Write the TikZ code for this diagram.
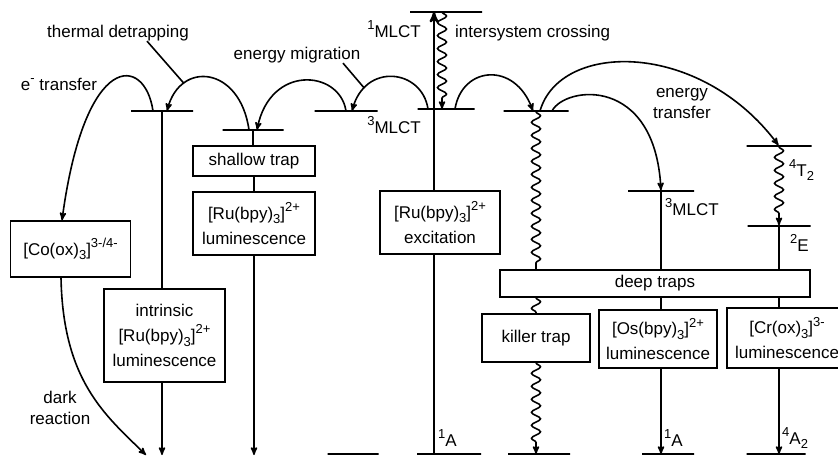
\documentclass[tikz,border=0pt]{standalone}
\usepackage{fontspec}
\setmainfont{Liberation Sans}
\usetikzlibrary{arrows,decorations.pathmorphing}
\newcommand{\lsub}[1]{\raisebox{-0.5ex}{\fontsize{13}{13}\selectfont #1}}
\newcommand{\lsup}[1]{\raisebox{0.85ex}{\fontsize{13}{13}\selectfont #1}}
\newcommand{\rubpy}{{[}Ru(bpy)\lsub{3}{]}\lsup{2+}}
\tikzset{
  lab/.style = {align=center, inner sep=0pt, font=\fontsize{17}{21}\selectfont},
  box_t/.style = {lab, rectangle, draw=black, line width=1.5pt, fill=white,
    font=\fontsize{17}{25}\selectfont},
  lvl/.style = {rectangle, draw=black, line width=1.5pt, inner sep=0pt,
    minimum height=0pt, minimum width=#1},% niveau d'energie
  wig/.style = {decorate, decoration={snake, amplitude=4.5pt,
    segment length=13pt, post length=8pt}},% relaxation
  wire/.style = {line width=1.6pt}
}

\begin{document}
\begin{tikzpicture}[x=1pt, y=-1pt, >=stealth']
\useasboundingbox[fill=white] (0,0) rectangle (838,457);

% levels
\node[lvl=62pt] (lA) at (162,111) {};
\node[lvl=61pt] (lB) at (253,130) {};
\node[lvl=63pt] (lC) at (346,111) {};
\node[lvl=72pt] (s1) at (446,12) {};
\node[lvl=57pt] (t1) at (446,109) {};
\node[lvl=65pt] (lD) at (536,111) {};
\node[lvl=66pt] (lO) at (661,191) {};
\node[lvl=65pt] (l4) at (779,146) {};
\node[lvl=63pt] (l2) at (779,226) {};
% ground states
\node[lvl=51pt] (gC) at (353,454) {};
\node[lvl=64pt] (g1) at (449,454) {};
\node[lvl=62pt] (gK) at (539,454) {};
\node[lvl=52pt] (gO) at (668,454) {};
\node[lvl=59pt] (gR) at (776,454) {};
\coordinate (eA) at (162,455);
\coordinate (eB) at (254,455);
\coordinate (eD) at (146,455);
\coordinate (cM) at (434,0);

% boxes
\node[box_t, minimum width=122pt, minimum height=30pt] (shal) at (254,161) {shallow trap};
\node[box_t, minimum width=122pt, minimum height=63pt] (rlum) at (254,223.5) {\rubpy\\luminescence};
\node[box_t, minimum width=120pt, minimum height=56pt] (co) at (70.5,249) {{[}Co(ox)\lsub{3}{]}\lsup{3-/4-}};
\node[box_t, minimum width=121pt, minimum height=93pt] (intr) at (164.5,335.5) {intrinsic\\\rubpy\\luminescence};
\node[box_t, minimum width=120pt, minimum height=63pt] (ex) at (440,222.5) {\rubpy\\excitation};
\node[box_t, minimum width=310pt, minimum height=27pt] (deep) at (655,283.5) {deep traps};
\node[box_t, minimum width=108pt, minimum height=48pt] (kill) at (536,338) {killer trap};
\node[box_t, minimum width=118pt, minimum height=58pt] (os) at (658,339) {{[}Os(bpy)\lsub{3}{]}\lsup{2+}\\luminescence};
\node[box_t, minimum width=120pt, minimum height=60pt] (cr) at (787,338) {{[}Cr(ox)\lsub{3}{]}\lsup{3-}\\luminescence};

% labels
\node[lab] (l_td) at (118,33) {thermal detrapping};
\node[lab] (l_et) at (59,84) {e\lsup{-} transfer};
\node[lab] (l_em) at (297,55) {energy migration};
\node[lab, anchor=east] (l_s1) at (421,29) {\lsup{1}MLCT};
\node[lab, anchor=east] (l_t1) at (421,125) {\lsup{3}MLCT};
\node[lab, anchor=west] (l_isc) at (455,33) {intersystem crossing};
\node[lab] (l_ent) at (682,104) {energy\\transfer};
\node[lab, anchor=west] (l_tO) at (665,207) {\lsup{3}MLCT};
\node[lab, anchor=west] (l_4T) at (789,170) {\lsup{4}T\lsub{2}};
\node[lab, anchor=west] (l_2E) at (790,243) {\lsup{2}E};
\node[lab] (l_dr) at (60,408) {dark\\reaction};
\node[lab, anchor=west] (l_1A) at (438,438) {\lsup{1}A};
\node[lab, anchor=west] (l_1Ao) at (664,438) {\lsup{1}A};
\node[lab, anchor=west] (l_4A) at (782,438) {\lsup{4}A\lsub{2}};

\begin{scope}[wire]
% intrinsic and shallow trap
\draw (lA) -- (lA |- intr.north);
\draw[->] (lA |- intr.south) -- (eA);
\draw (lB) -- (lB |- shal.north);
\draw (shal.south) -- (rlum.north);
\draw[->] (rlum.south) -- (eB);
% excitation, intersystem crossing
\draw[line width=2.4pt] (g1 -| cM) -- (ex.south -| cM);
\draw[->, line width=2.4pt] (ex.north -| cM) -- (s1 -| cM);
\draw[->, wig] ([xshift=-4pt]s1.center) -- ([xshift=-4pt]t1.center);
% killer trap
\draw[wig, decoration={post length=0pt}] (lD) -- (lD |- deep.north);
\draw[wig, decoration={post length=0pt}] (kill |- deep.south) -- (kill.north);
\draw[->, wig] (kill.south) -- (kill |- gK);
% osmium
\draw (lO) -- (lO |- deep.north);
\draw (lO |- deep.south) -- (lO |- os.north);
\draw[->] (lO |- os.south) -- (lO |- gO);
% chromium
\draw[->, wig] (l4) -- (l2);
\draw (l2) -- (l2 |- deep.north);
\draw (l2 |- deep.south) -- (l2 |- cr.north);
\draw[->] (l2 |- cr.south) -- (l2 |- gR);
% cobalt
\draw[->] ([xshift=-9pt]lA.center) .. controls +(-8,-56) and +(23,-171) .. ([xshift=-8.5pt]co.north);
\draw[->] ([xshift=-9.5pt]co.south) .. controls +(2,103) and +(-41,-40) .. (eD);
% detrapping and migration
\draw[->] ([xshift=-4pt]lB.center) .. controls +(-9,-64) and +(13,-51) .. coordinate[pos=0.75] (p_td) ([xshift=5pt]lA.center);
\draw[->] (lC) .. controls +(-7,-41) and +(13,-66) .. ([xshift=4pt]lB.center);
\draw[->] ([xshift=-18pt]t1.center) .. controls +(-6,-40) and +(13,-49) .. coordinate[pos=0.8] (p_em) ([xshift=6pt]lC.center);
\draw[->] ([xshift=9pt]t1.center) .. controls +(7,-43) and +(-18,-50) .. ([xshift=-3pt]lD.center);
% energy transfer
\draw[->] ([xshift=4pt]lD.center) .. controls +(20,-70) and +(-79,-106) .. (l4);
\draw[->] ([xshift=16pt]lD.center) .. controls +(13,-25) and +(-6,-116) .. (lO);
% leaders
\draw ([xshift=29pt]l_td.south) -- (p_td);
\draw ([xshift=46pt]l_em.south) -- (p_em);
\end{scope}
\end{tikzpicture}
\end{document}
